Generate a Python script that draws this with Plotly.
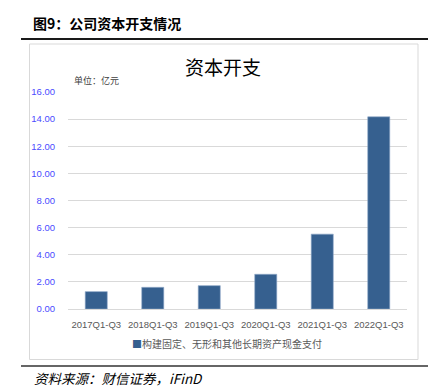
import plotly.graph_objects as go

categories = ["2017Q1-Q3", "2018Q1-Q3", "2019Q1-Q3", "2020Q1-Q3", "2021Q1-Q3", "2022Q1-Q3"]
capex = [1.28, 1.60, 1.72, 2.56, 5.52, 14.17]
series_name = "构建固定、无形和其他长期资产现金支付"
y_ticks = [0, 2, 4, 6, 8, 10, 12, 14, 16]
y_tick_labels = [f"{v:.2f}" for v in y_ticks]

W, H = 440, 389
L, R, T, B = 68, 407, 92, 309

def px(x):
    return (x - L) / (R - L)

def py(y):
    return (B - y) / (B - T)

CJK = "Noto Sans CJK SC"
BAR = "#36608F"

fig = go.Figure()
fig.add_trace(go.Bar(
    x=categories, y=capex, name=series_name,
    marker=dict(color=BAR, line=dict(color="#8FA8C8", width=0.6)),
    showlegend=False,
))

fig.update_layout(
    width=W, height=H,
    margin=dict(l=L, r=W - R, t=T, b=H - B, pad=0),
    plot_bgcolor="white", paper_bgcolor="white",
    bargap=0.61,
    showlegend=False,
    font=dict(family="Liberation Sans, " + CJK),
)
fig.update_yaxes(range=[0, 16], tickvals=y_ticks, ticktext=y_tick_labels,
                 showgrid=True, gridcolor="#D9D9D9", gridwidth=1,
                 zeroline=True, zerolinecolor="#D9D9D9", zerolinewidth=1,
                 tickfont=dict(size=9.5, color="#4B4BFF", family="Liberation Sans"),
                 ticks="outside", ticklen=10, tickcolor="rgba(0,0,0,0)",
                 showline=False, fixedrange=True)
fig.update_xaxes(showgrid=False, showline=False,
                 tickfont=dict(size=9.5, color="#595959", family="Liberation Sans"),
                 ticks="outside", ticklen=7, tickcolor="rgba(0,0,0,0)",
                 fixedrange=True)

# decorations: header line, chart border, bottom line
fig.add_shape(type="line", xref="paper", yref="paper",
              x0=px(21), x1=px(428), y0=py(39), y1=py(39),
              line=dict(color="#1A1A1A", width=2))
fig.add_shape(type="rect", xref="paper", yref="paper",
              x0=px(29.5), x1=px(418), y0=py(44), y1=py(359.5),
              line=dict(color="#D9D9D9", width=1), layer="below")
fig.add_shape(type="line", xref="paper", yref="paper",
              x0=px(21), x1=px(428), y0=py(366), y1=py(366),
              line=dict(color="#333333", width=1.5))

fig.add_annotation(text="<b>图9：公司资本开支情况</b>", xref="paper", yref="paper",
                   x=px(31), y=py(23), xanchor="left", yanchor="middle", showarrow=False,
                   font=dict(family=CJK, size=14, color="#000000"))
fig.add_annotation(text="资本开支", xref="paper", yref="paper",
                   x=px(223), y=py(67), xanchor="center", yanchor="middle", showarrow=False,
                   font=dict(family=CJK, size=19, color="#000000"))
fig.add_annotation(text="单位：亿元", xref="paper", yref="paper",
                   x=px(72), y=py(80), xanchor="left", yanchor="middle", showarrow=False,
                   font=dict(family=CJK, size=9, color="#404040"))
fig.add_annotation(text=f"<span style='color:{BAR}'>■</span>{series_name}",
                   xref="paper", yref="paper",
                   x=px(227), y=py(343), xanchor="center", yanchor="middle", showarrow=False,
                   font=dict(family=CJK, size=10, color="#595959"))
fig.add_annotation(text="<i>资料来源：财信证券，iFinD</i>", xref="paper", yref="paper",
                   x=px(32), y=py(378), xanchor="left", yanchor="middle", showarrow=False,
                   font=dict(family=CJK, size=13.5, color="#000000"))

fig.write_html("out.html", config={"displayModeBar": False},
               post_script="document.body.style.margin='0';document.body.style.overflow='hidden';")
